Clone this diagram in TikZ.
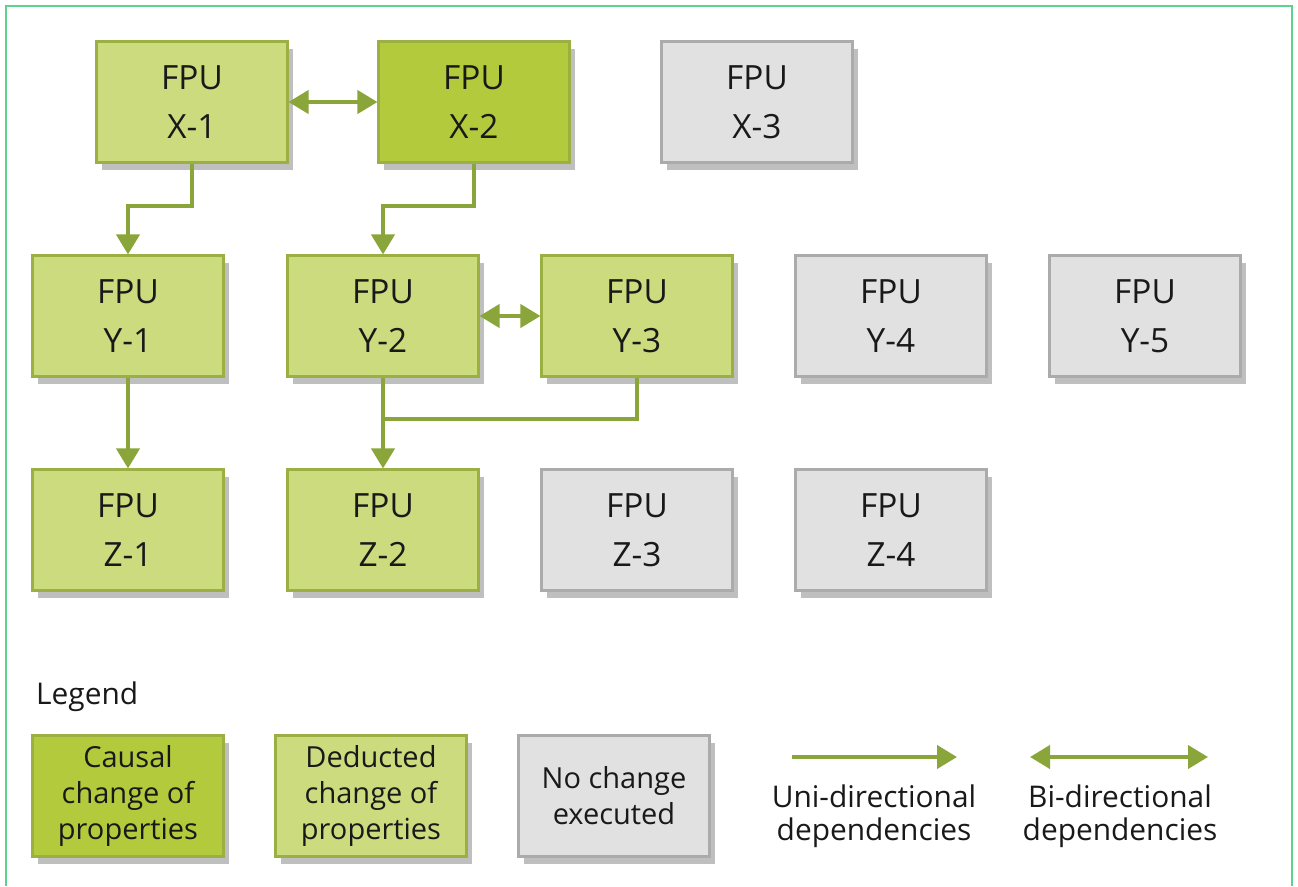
\documentclass[tikz,border=0pt]{standalone}
\usepackage{fontspec}
\setmainfont{Open Sans}
\usetikzlibrary{arrows.meta,shadows}

\definecolor{causalgreen}{HTML}{B2CA3C}
\definecolor{deductgreen}{HTML}{CBDB7E}
\definecolor{boxedge}{HTML}{9AB043}
\definecolor{nochange}{HTML}{E1E1E1}
\definecolor{grayedge}{HTML}{ABABAB}
\definecolor{deparrow}{HTML}{8AA53A}
\definecolor{framegreen}{HTML}{5DD28C}

\tikzset{
  fpu/.style={draw, line width=1.2pt, minimum width=3.82cm, minimum height=2.42cm,
    align=center, font=\fontsize{19}{28}\selectfont, text=black!90,
    drop shadow={shadow xshift=3pt, shadow yshift=-4pt, opacity=0.25, fill=black}},
  causal/.style={fpu, fill=causalgreen, draw=boxedge},
  deduct/.style={fpu, fill=deductgreen, draw=boxedge},
  idle/.style={fpu, fill=nochange, draw=grayedge},
  legbox/.style={font=\fontsize{16.5}{20.5}\selectfont},
  legtext/.style={align=center, font=\fontsize{17}{19}\selectfont, text=black!90},
  depline/.style={draw=deparrow, line width=2.3pt},
  dep/.style={depline, -{Triangle[width=0.46cm,length=0.4cm]}},
  bidep/.style={depline, {Triangle[width=0.46cm,length=0.4cm]}-{Triangle[width=0.46cm,length=0.4cm]}}
}

\begin{document}
\begin{tikzpicture}[x=0.02cm, y=-0.02cm]
\useasboundingbox (0,0) rectangle (1298,886);
\draw[framegreen, line width=1.2pt] (6,886) -- (6,6) -- (1292,6) -- (1292,886);

% first row
\node[deduct] (x1) at (192,102) {FPU\\X-1};
\node[causal] (x2) at (474,102) {FPU\\X-2};
\node[idle] (x3) at (757,102) {FPU\\X-3};

% second row
\node[deduct] (y1) at (128,316) {FPU\\Y-1};
\node[deduct] (y2) at (383,316) {FPU\\Y-2};
\node[deduct] (y3) at (637,316) {FPU\\Y-3};
\node[idle] (y4) at (891,316) {FPU\\Y-4};
\node[idle] (y5) at (1145,316) {FPU\\Y-5};

% third row
\node[deduct] (z1) at (128,530) {FPU\\Z-1};
\node[deduct] (z2) at (383,530) {FPU\\Z-2};
\node[idle] (z3) at (637,530) {FPU\\Z-3};
\node[idle] (z4) at (891,530) {FPU\\Z-4};

% dependencies
\draw[bidep] (x1.east) -- (x2.west);
\draw[dep] (x1.south) -- ++(0,42) -| (y1.north);
\draw[dep] (x2.south) -- ++(0,42) -| (y2.north);
\draw[bidep] (y2.east) -- (y3.west);
\draw[dep] (y1.south) -- (z1.north);
\draw[depline] (y3.south) -- ++(0,41) -| (y2.south);
\draw[dep] (y2.south) -- (z2.north);

% legend
\node[legtext, anchor=west] (leg) at (30,697) {Legend};
\node[causal, legbox] (lcausal) at (128,796) {Causal\\change of\\properties};
\node[deduct, legbox] (ldeduct) at (371,796) {Deducted\\change of\\properties};
\node[idle, legbox] (lidle) at (614,796) {No change\\executed};

\coordinate (u1) at (792,757);
\coordinate (u2) at (957,757);
\draw[dep] (u1) -- (u2);
\node[legtext] (utext) at (874,816) {Uni-directional\\dependencies};

\coordinate (b1) at (1030,757);
\coordinate (b2) at (1208,757);
\draw[bidep] (b1) -- (b2);
\node[legtext] (btext) at (1120,816) {Bi-directional\\dependencies};
\end{tikzpicture}
\end{document}
